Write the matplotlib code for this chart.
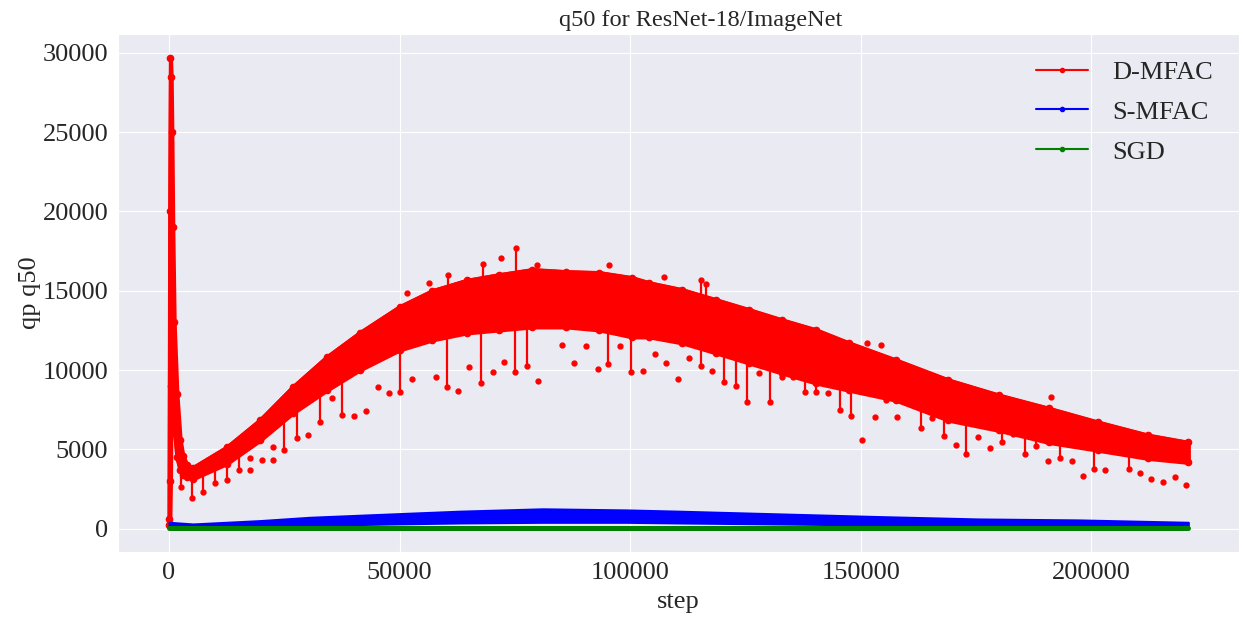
import numpy as np
import matplotlib
matplotlib.use("Agg")
import matplotlib.pyplot as plt
import seaborn as sns
from matplotlib.lines import Line2D

# ---------------- data ----------------
# D-MFAC band envelope
dm_steps = [0, 150, 300, 450, 600, 800, 1100, 1700, 2400, 3000, 3900, 5200,
            12500, 19700, 26800, 34200, 41300, 50000, 57100, 64500, 71600,
            78800, 86100, 93300, 100400, 104100, 111300, 118600, 125800,
            132900, 140300, 147400, 157600, 169000, 179900, 190700, 201500,
            212300, 221000]
dm_upper = [600, 20000, 29700, 28500, 25000, 19000, 13000, 8500, 5600, 4600,
            4000, 3850, 5130, 6840, 8920, 10820, 12340, 13990, 15000, 15650,
            16010, 16330, 16200, 16140, 15820, 15500, 15060, 14430, 13800,
            13160, 12530, 11710, 10630, 9370, 8420, 7590, 6710, 5890, 5440]
dm_lower = [200, 300, 3000, 9000, 11000, 9000, 6500, 4500, 3700, 3400,
            3250, 3150, 4100, 5570, 7280, 8730, 10000, 11270, 11900, 12340,
            12530, 12720, 12720, 12530, 12090, 12090, 11710, 11080, 10440,
            9810, 9180, 8730, 8100, 6840, 6200, 5440, 4940, 4430, 4180]

# D-MFAC outliers connected to the band by a stem
dm_stem_steps = [2600, 5000, 7400, 10000, 12500, 15200, 24900, 27700, 32700,
                 37400, 50000, 60200, 67700, 75100, 77700, 95200, 100200,
                 115400, 120300, 122900, 125300, 130300, 137900, 140300,
                 145500, 147800, 163000, 165400, 168000, 172900, 180500,
                 185500, 187900, 193100, 200600, 208200]
dm_stem_values = [2600, 1960, 2280, 2850, 3040, 3670, 4940, 5700, 6710,
                  7150, 8600, 8920, 9180, 9870, 10250, 10380, 9870,
                  10250, 9240, 8990, 7970, 7970, 8600, 8600,
                  7470, 7090, 6330, 6960, 5820, 4680, 5440,
                  4680, 5190, 4430, 3730, 3730]
# upper outliers with stems
dm_up_steps = [60400, 68000, 75300, 115400, 116400]
dm_up_values = [16010, 16710, 17720, 15700, 15440]

# isolated D-MFAC points
dm_dot_steps = [17500, 17500, 20100, 22500, 22500, 30100, 35300, 40000, 42600,
                45200, 47600, 52600, 57800, 62600, 65100, 70300, 72700, 80100,
                85300, 87700, 90300, 92900, 97800, 102800, 105400, 107800,
                110400, 112800, 117700, 127900, 132900, 135300, 142900, 150200,
                153000, 155400, 157800, 170600, 175300, 178100, 182900, 190500,
                195700, 198100, 203000, 210600, 213000, 215600, 218200, 220600,
                51700, 56300, 72000, 79700, 95500, 107400, 151300, 154300, 191300]
dm_dot_values = [3670, 4430, 4300, 4300, 5130, 5890, 8230, 7090, 7400,
                 8920, 8540, 9430, 9560, 8670, 10190, 9870, 10510, 9300,
                 11580, 10440, 11520, 10060, 11520, 9940, 11010, 10440,
                 9430, 10760, 9940, 9810, 9560, 9560, 8540, 5570,
                 7030, 8100, 7030, 5250, 5760, 5060, 5950, 4240,
                 4240, 3350, 3670, 3480, 3100, 2970, 3230, 2780,
                 14870, 15500, 17090, 16650, 16650, 15890, 11710, 11580, 8290]

# S-MFAC band envelope
sm_steps = [0, 5200, 19700, 30500, 48500, 63000, 81000, 99100, 110600,
            132200, 153900, 175500, 197200, 221000]
sm_upper = [400, 295, 506, 715, 930, 1100, 1250, 1180, 1100,
            930, 760, 610, 550, 400]
sm_lower = [190, 150, 170, 210, 295, 360, 400, 400, 360,
            295, 230, 230, 210, 190]

# SGD
sgd_steps = [0, 50000, 100000, 150000, 200000, 221000]
sgd_values = [20, 20, 20, 20, 20, 20]

labels = ["D-MFAC", "S-MFAC", "SGD"]
title = "q50 for ResNet-18/ImageNet"

# ---------------- style ----------------
sns.set_style("darkgrid")
plt.rcParams["font.family"] = ["Liberation Serif", "DejaVu Serif"]

RED, BLUE, GREEN = "#ff0000", "#0000ff", "#008000"

fig, ax = plt.subplots(figsize=(12.43, 6.18), dpi=100)
fig.subplots_adjust(left=0.095, right=0.997, top=0.945, bottom=0.107)

# D-MFAC
ax.fill_between(dm_steps, dm_lower, dm_upper, color=RED, lw=3,
                edgecolor=RED, zorder=2)
ax.plot(dm_steps, dm_upper, color=RED, lw=2, marker="o", ms=4.5, zorder=2)
ax.plot(dm_steps, dm_lower, color=RED, lw=2, marker="o", ms=4.5, zorder=2)
stem_base = np.interp(dm_stem_steps, dm_steps, dm_lower)
ax.vlines(dm_stem_steps, dm_stem_values, stem_base, color=RED, lw=1.6, zorder=2)
up_base = np.interp(dm_up_steps, dm_steps, dm_upper)
ax.vlines(dm_up_steps, up_base, dm_up_values, color=RED, lw=1.6, zorder=2)
ax.plot(dm_stem_steps + dm_up_steps + dm_dot_steps,
        dm_stem_values + dm_up_values + dm_dot_values,
        ls="none", marker="o", ms=3.5, color=RED, zorder=2)

# S-MFAC
ax.fill_between(sm_steps, sm_lower, sm_upper, color=BLUE, lw=1.5,
                edgecolor=BLUE, zorder=3)

# SGD
ax.plot(sgd_steps, sgd_values, color=GREEN, lw=3.6, zorder=4)

ax.set_title(title, fontsize=17.5, pad=6, x=0.52)
ax.set_xlabel("step", fontsize=19, labelpad=5)
ax.set_ylabel("qp q50", fontsize=19, labelpad=1)
ax.tick_params(axis="both", labelsize=19)

handles = [Line2D([], [], color=c, lw=1.5, marker=".", ms=6)
           for c in (RED, BLUE, GREEN)]
ax.legend(handles, labels, loc="upper right", frameon=False, fontsize=19,
          numpoints=1, borderaxespad=0.6, labelspacing=0.62,
          handletextpad=0.9)

fig.savefig("out.png", dpi=100)
